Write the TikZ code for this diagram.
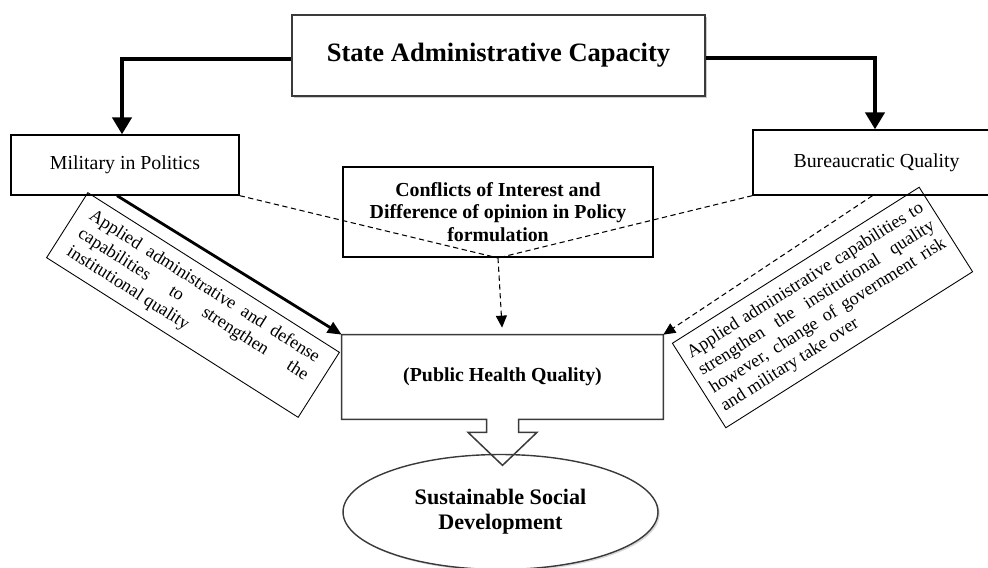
\documentclass[tikz,border=0pt]{standalone}
\usepackage{fontspec}
\setmainfont{Liberation Serif}
\usepackage{tikz}
\usetikzlibrary{arrows.meta,calc,positioning,shapes.geometric,shadows}
\definecolor{SCEdge}{HTML}{3A3A3A}
\definecolor{SCShade}{HTML}{8C8C8C}
\tikzset{
  scBox/.style={
    rectangle, draw=black, line width=0.75pt, fill=white,
    align=center, text=black, inner sep=4pt,
    font=\fontsize{11.3}{12.5}\selectfont
  },
  scBold/.style={
    scBox, line width=1.1pt, fill=none,
    font=\fontsize{11.3}{12.6}\selectfont\bfseries
  },
  scHead/.style={
    scBox, draw=SCEdge, line width=0.8pt,
    font=\fontsize{15.1}{17}\selectfont\bfseries,
    drop shadow={shadow xshift=1pt, shadow yshift=-1pt, fill=SCShade, opacity=0.45}
  },
  scNote/.style={
    rectangle, draw=black, line width=0.5pt, align=justify,
    inner xsep=0.16cm, inner ysep=2pt,
    font=\fontsize{10.3}{12}\selectfont
  },
  scOutline/.style={draw=SCEdge, line width=0.85pt, line join=miter},
  scHeavy/.style={-{Triangle[length=0.34cm, width=0.38cm]}, line width=2.8pt},
  scThick/.style={-{Triangle[length=0.28cm, width=0.24cm]}, line width=1.6pt},
  scDash/.style={dash pattern=on 3pt off 2pt, line width=0.6pt},
  scDashArrow/.style={scDash, -{Triangle[length=0.24cm, width=0.22cm]}}
}

\begin{document}
\begin{tikzpicture}[x=0.02cm, y=-0.02cm]
  \useasboundingbox (0,0) rectangle (988,568);

  % top and the two branches
  \node[scHead, minimum width=8.26cm, minimum height=1.62cm] (state) at (498.5,55.5) {State Administrative Capacity};
  \node[scBox, minimum width=4.56cm, minimum height=1.2cm] (mil) at (125,165) {Military in Politics};
  \node[scBox, minimum width=4.94cm, minimum height=1.3cm] (bur) at (876.5,162.5) {Bureaucratic Quality};

  % middle
  \node[scBold, minimum width=6.2cm, minimum height=1.8cm] (conf) at (498,212) {Conflicts of Interest and\\Difference of opinion in Policy\\formulation};
  \node[minimum width=6.42cm, minimum height=1.68cm, font=\fontsize{11.3}{13}\selectfont\bfseries] (phq) at (502.5,377) {(Public Health Quality)};
  \node[ellipse, draw=SCEdge, line width=0.8pt, fill=white, minimum width=6.3cm, minimum height=2.3cm, inner sep=0pt,
        align=center, drop shadow={shadow xshift=1pt, shadow yshift=-1pt, fill=SCShade, opacity=0.35},
        font=\fontsize{12.6}{14.2}\selectfont\bfseries] (ssd) at (500.5,512) {Sustainable Social\\Development};

  % box with a hollow arrow down
  \draw[scOutline] (phq.north west) -- (phq.north east) -- (phq.south east)
    -- ($(phq.south)+(16,0)$) -- ++(0,13) -- ++(18.5,0) -- ++(-34.5,33) -- ++(-34.5,-33)
    -- ++(18.5,0) -- ++(0,-13) -- (phq.south west) -- cycle;

  % slanted notes
  \node[scNote, rotate=-32.4, text width=5.38cm, minimum width=5.96cm, minimum height=1.54cm] (milnote) at (193,305)
    {Applied administrative and defense\linebreak capabilities to strengthen the\linebreak institutional quality};
  \node[scNote, rotate=32.3, text width=5.52cm, minimum width=5.84cm, minimum height=2.0cm] (burnote) at (822.5,307.5)
    {Applied administrative capabilities to\linebreak strengthen the institutional quality\linebreak however, change of government risk\linebreak and military take over};

  % connectors
  \draw[scHeavy] ([yshift=-0.07cm]state.west) -| ([xshift=-0.06cm]mil.north);
  \draw[scHeavy] ([yshift=-0.05cm]state.east) -| ([xshift=-0.03cm]bur.north);
  \draw[scThick] ([xshift=-0.16cm]mil.south) -- (phq.north west);

  \draw[scDash] (mil.south east) -- (conf.south);
  \draw[scDash] (bur.south west) -- (conf.south);
  \draw[scDashArrow, shorten >=4pt] (conf.south) -- (phq.north);
  \draw[scDashArrow] ([xshift=-0.08cm]bur.south) -- (phq.north east);
\end{tikzpicture}
\end{document}
